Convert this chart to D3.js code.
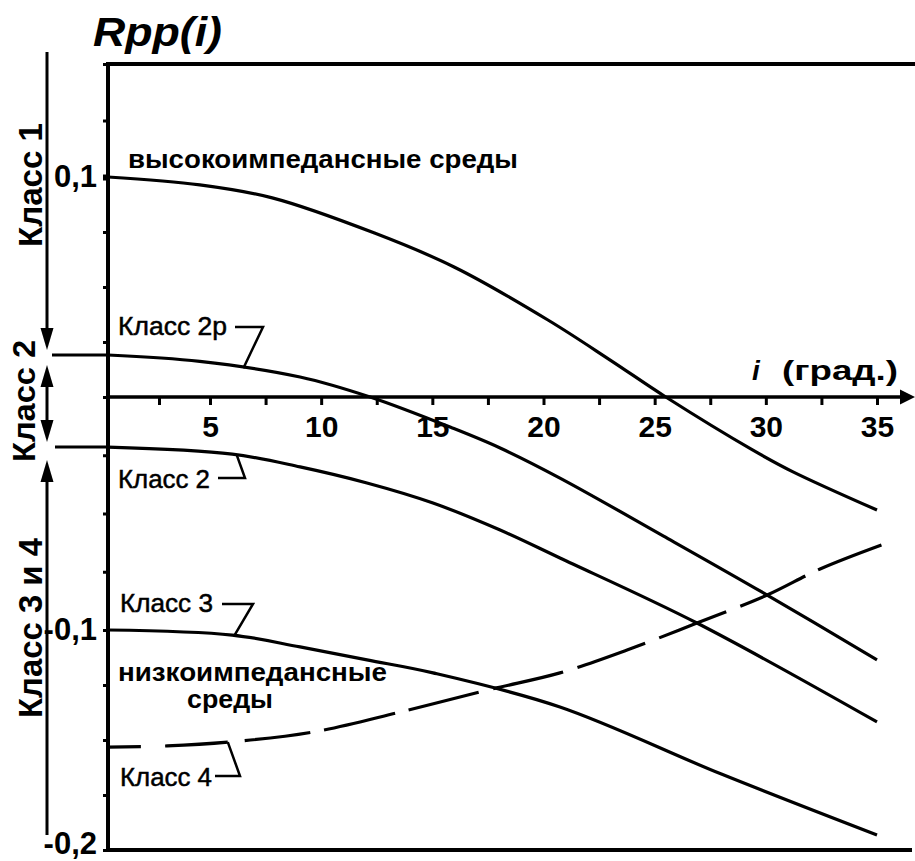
<!DOCTYPE html>
<html><head><meta charset="utf-8">
<script src="https://cdn.jsdelivr.net/npm/d3@7"></script>
<style>
html,body{margin:0;padding:0;background:#fff;}
svg{display:block;font-family:"Liberation Sans",Arial,sans-serif;}
</style></head><body>
<svg id="chart" width="915" height="861"></svg>
<script>
// ---- data ----
const anglesHigh = [0, 4.5, 7.8, 12.4, 16, 20.2, 23, 25.5, 29.4, 31.2, 35];
const rppHigh    = [0.1, 0.0964, 0.0905, 0.0745, 0.059, 0.035, 0.0168, 0, -0.0227, -0.032, -0.0485];

const angles2p = [0, 4.5, 9.05, 12.2, 15.9, 18.05, 20.74, 25.4, 30.06, 35];
const rpp2p    = [0.0191, 0.0162, 0.0091, 0, -0.0133, -0.0219, -0.0348, -0.0597, -0.085, -0.1136];

const angles2 = [0, 6.0, 9.05, 12.06, 15.03, 18.05, 20.74, 26.9, 35];
const rpp2    = [-0.0215, -0.0245, -0.030, -0.0369, -0.0455, -0.0571, -0.0691, -0.097, -0.1418];

const angles3 = [0, 6.0, 9.05, 12.06, 15.03, 20.74, 28.0, 35];
const rpp3    = [-0.1, -0.1023, -0.1077, -0.1136, -0.1195, -0.135, -0.1655, -0.1932];

const angles4 = [0, 2.9, 5.9, 9.63, 13.55, 17.6, 20.74, 23.76, 26.9, 30.06, 32.44, 35.2];
const rpp4    = [-0.1532, -0.1527, -0.1509, -0.1464, -0.1373, -0.127, -0.1195, -0.1091, -0.097, -0.085, -0.0738, -0.0635];

const xMajorTicks = [5, 10, 15, 20, 25, 30, 35];
const xMinorTicks = [2.5, 7.5, 12.5, 17.5, 22.5, 27.5, 32.5];
const yLabelValues = [0.1, -0.1, -0.2];
const yLabelTexts  = ["0,1", "-0,1", "-0,2"];

// ---- scales (hand-drawn original: piecewise linear) ----
const svg = d3.select("#chart");
const x = d3.scaleLinear().domain([0, 5, 35]).range([108, 210, 877]);
const y = d3.scaleLinear().domain([-0.2, -0.1, 0, 0.1, 0.15]).range([850, 630, 397, 177, 64]);

const X0 = x(0), YTOP = y(0.15), YBOT = y(-0.2), Y0 = y(0);

// frame lines (top & bottom)
svg.append("line").attr("x1", X0).attr("x2", 915).attr("y1", YTOP).attr("y2", YTOP)
  .attr("stroke", "#000").attr("stroke-width", 4);
svg.append("line").attr("x1", X0).attr("x2", 912).attr("y1", YBOT).attr("y2", YBOT)
  .attr("stroke", "#000").attr("stroke-width", 4);

// y axis
const yTickVals = d3.range(-8, 7).map(k => k * 0.025);
const yAxis = d3.axisLeft(y).tickValues(yTickVals).tickSize(5).tickPadding(6)
  .tickFormat(v => {
    const i = yLabelValues.findIndex(l => Math.abs(l - v) < 1e-6);
    return i >= 0 ? yLabelTexts[i] : "";
  });
const gy = svg.append("g").attr("transform", `translate(${X0},0)`).call(yAxis);
gy.select(".domain").remove();
gy.selectAll(".tick line").attr("stroke", "#000").attr("stroke-width", 3);
gy.selectAll(".tick").filter(v => Math.abs(v - 0.1) < 1e-6).select("line").attr("stroke-width", 6);
gy.selectAll(".tick text").attr("font-size", 31).attr("font-weight", "bold")
  .attr("font-family", "'Liberation Sans', Arial, sans-serif").attr("fill", "#000")
  .attr("dy", v => Math.abs(v + 0.2) < 1e-6 ? "0.1em" : "0.29em");
svg.append("line").attr("x1", X0).attr("x2", X0).attr("y1", YTOP - 2).attr("y2", YBOT + 2)
  .attr("stroke", "#000").attr("stroke-width", 4);

// x axis (at R = 0)
const xAxis = d3.axisBottom(x).tickValues(xMinorTicks.concat(xMajorTicks)).tickSize(8)
  .tickFormat(v => xMajorTicks.includes(v) ? String(v) : "");
const gx = svg.append("g").attr("transform", `translate(0,${Y0})`).call(xAxis);
gx.select(".domain").remove();
gx.selectAll(".tick line").attr("stroke", "#000").attr("stroke-width", 3);
gx.selectAll(".tick text").attr("font-size", 30).attr("font-weight", "bold")
  .attr("font-family", "'Liberation Sans', Arial, sans-serif").attr("fill", "#000")
  .attr("y", 40).attr("dy", null);
svg.append("line").attr("x1", X0).attr("x2", 903).attr("y1", Y0).attr("y2", Y0)
  .attr("stroke", "#000").attr("stroke-width", 3.5);
svg.append("path").attr("d", `M900,${Y0 - 7.5}L915,${Y0}L900,${Y0 + 7.5}Z`).attr("fill", "#000");

// curves
const line = d3.line().x(d => x(d[0])).y(d => y(d[1])).curve(d3.curveCatmullRom.alpha(0.5));
const series = [
  {a: anglesHigh, r: rppHigh, dash: null},
  {a: angles2p, r: rpp2p, dash: null},
  {a: angles2, r: rpp2, dash: null},
  {a: angles3, r: rpp3, dash: null},
  {a: angles4, r: rpp4, dash: "33 24 63 17 66 14 73 14 72 15 72 15 72 15 72 15 72 14 72 10 80 17 62"}
];
series.forEach(s => {
  svg.append("path").datum(d3.zip(s.a, s.r)).attr("d", line)
    .attr("fill", "none").attr("stroke", "#000").attr("stroke-width", 3.2)
    .attr("stroke-dasharray", s.dash);
});

// class boundary lines at left (continuation of 2p and 2 starts)
svg.append("line").attr("x1", 52).attr("x2", X0).attr("y1", y(rpp2p[0])).attr("y2", y(rpp2p[0]))
  .attr("stroke", "#000").attr("stroke-width", 3);
svg.append("line").attr("x1", 55).attr("x2", X0).attr("y1", y(rpp2[0])).attr("y2", y(rpp2[0]))
  .attr("stroke", "#000").attr("stroke-width", 3);

// vertical class arrows
const AX = 47;
function vline(y1, y2) {
  svg.append("line").attr("x1", AX).attr("x2", AX).attr("y1", y1).attr("y2", y2)
    .attr("stroke", "#000").attr("stroke-width", 3);
}
function arrowHead(tipY, dir) { // dir=+1 pointing down, -1 pointing up
  const L = 22, W = 6.5;
  svg.append("path").attr("d", `M${AX - W},${tipY - dir * L}L${AX},${tipY}L${AX + W},${tipY - dir * L}Z`).attr("fill", "#000");
}
const b1 = y(rpp2p[0]), b2 = y(rpp2[0]);
vline(52, b1 - 15); arrowHead(b1 - 5, 1);
vline(b1 + 20, b2 - 15); arrowHead(b1 + 10, -1); arrowHead(b2 - 5, 1);
vline(b2 + 23, YBOT - 15); arrowHead(b2 + 13, -1);

// rotated class labels
function vtext(txt, bx, cy, len, fs) {
  svg.append("text").attr("transform", `translate(${bx},${cy}) rotate(-90)`)
    .attr("text-anchor", "middle").attr("font-size", fs).attr("font-weight", "bold")
    .attr("textLength", len).attr("lengthAdjust", "spacingAndGlyphs").text(txt);
}
vtext("Класс 1", 42, 185, 124, 33);
vtext("Класс 2", 35, 401, 122, 32);
vtext("Класс 3 и 4", 42, 628, 180, 33);

// title and axis label
svg.append("text").attr("x", 93).attr("y", 46).attr("font-size", 40).attr("font-weight", "bold")
  .attr("font-style", "italic").attr("textLength", 129).attr("lengthAdjust", "spacingAndGlyphs").text("Rpp(i)");
svg.append("text").attr("x", 752).attr("y", 380).attr("font-size", 28).attr("font-weight", "bold")
  .attr("font-style", "italic").text("i");
svg.append("text").attr("x", 782).attr("y", 380).attr("font-size", 28).attr("font-weight", "bold")
  .attr("textLength", 116).attr("lengthAdjust", "spacingAndGlyphs").text("(град.)");

// region labels
function htext(txt, tx, ty, len, fs, bold) {
  svg.append("text").attr("x", tx).attr("y", ty).attr("font-size", fs)
    .attr("font-weight", bold ? "bold" : "normal")
    .attr("stroke", bold ? "none" : "#000").attr("stroke-width", bold ? 0 : 0.5)
    .attr("textLength", len).attr("lengthAdjust", "spacingAndGlyphs").text(txt);
}
htext("высокоимпедансные среды", 128, 168, 390, 26, true);
htext("низкоимпедансные", 118, 681, 269, 25, true);
htext("среды", 187, 708, 86, 25, true);

htext("Класс 2р", 118, 335, 109, 26, false);
htext("Класс 2", 118, 488, 92, 26, false);
htext("Класс 3", 120, 612, 93, 26, false);
htext("Класс 4", 120, 786, 92, 26, false);

// leader lines: horizontal tick then to the curve point
function leader(hx1, hx2, hy, ang, angles, rpps) {
  const r = d3.scaleLinear().domain(angles).range(rpps)(ang);
  svg.append("path").attr("d", `M${hx1},${hy}L${hx2},${hy}L${x(ang)},${y(r)}`)
    .attr("fill", "none").attr("stroke", "#000").attr("stroke-width", 2.5);
}
leader(235, 263, 327, 6.5, angles2p, rpp2p);
leader(218, 245, 478, 6.2, angles2, rpp2);
leader(222, 253, 604, 6.1, angles3, rpp3);
leader(215, 240, 776, 5.8, angles4, rpp4);
</script>
</body></html>
